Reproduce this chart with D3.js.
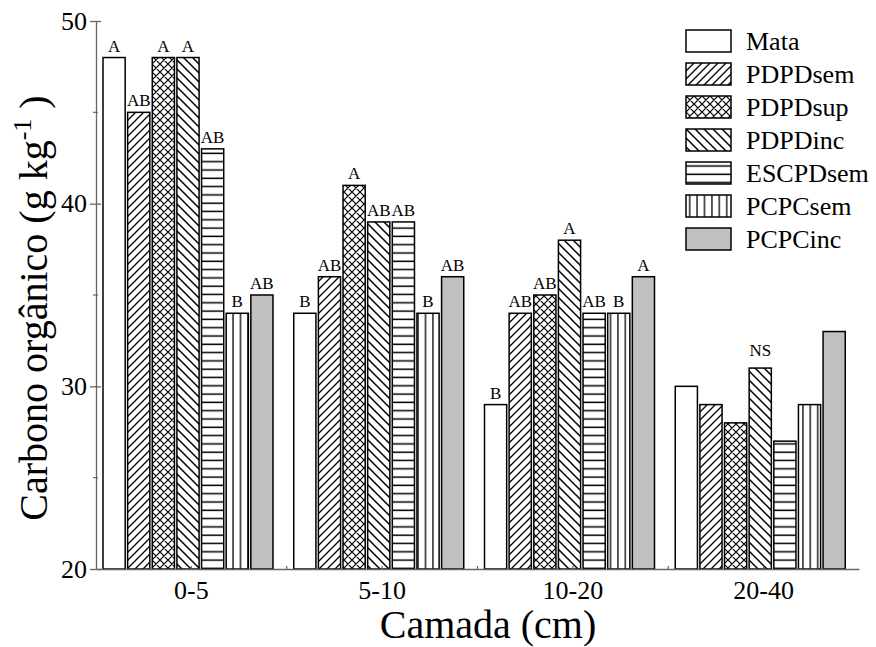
<!DOCTYPE html>
<html>
<head>
<meta charset="utf-8">
<script src="https://cdn.jsdelivr.net/npm/d3@7"></script>
<style>
  html, body { margin: 0; padding: 0; background: #fff; }
  svg { display: block; }
  svg text { font-family: "Liberation Serif", "Tinos", "Times New Roman", "DejaVu Serif", serif; }
</style>
</head>
<body>
<svg id="chart" width="876" height="647"></svg>
<script>
// Soil layers (x categories) and management systems (series)
const layers = ["0-5", "5-10", "10-20", "20-40"];
const systems = ["Mata", "PDPDsem", "PDPDsup", "PDPDinc", "ESCPDsem", "PCPCsem", "PCPCinc"];

// Organic carbon (g kg-1) per system, one value per layer
const mata     = [48, 34, 29, 30];
const pdpdSem  = [45, 36, 34, 29];
const pdpdSup  = [48, 41, 35, 28];
const pdpdInc  = [48, 39, 38, 31];
const escpdSem = [43, 39, 34, 27];
const pcpcSem  = [34, 34, 34, 29];
const pcpcInc  = [35, 36, 36, 33];

// Mean-comparison letters per system, one per layer
const mataLetters     = ["A", "B", "B", ""];
const pdpdSemLetters  = ["AB", "AB", "AB", ""];
const pdpdSupLetters  = ["A", "A", "AB", ""];
const pdpdIncLetters  = ["A", "AB", "A", "NS"];
const escpdSemLetters = ["AB", "AB", "AB", ""];
const pcpcSemLetters  = ["B", "B", "B", ""];
const pcpcIncLetters  = ["AB", "AB", "A", ""];

const yTicks = [20, 30, 40, 50];
const yMinorTicks = [25, 35, 45];

const seriesValues = [mata, pdpdSem, pdpdSup, pdpdInc, escpdSem, pcpcSem, pcpcInc];
const seriesLetters = [mataLetters, pdpdSemLetters, pdpdSupLetters, pdpdIncLetters,
                       escpdSemLetters, pcpcSemLetters, pcpcIncLetters];

const rows = [];
layers.forEach((layer, li) => {
  systems.forEach((sys, si) => {
    rows.push({ layer, sys, si, value: seriesValues[si][li], letter: seriesLetters[si][li] });
  });
});

const svg = d3.select("#chart");
const plotLeft = 96, plotRight = 859, plotTop = 21, plotBottom = 569;
const axisColor = "#666";
const serif = "'Liberation Serif', 'Tinos', 'Times New Roman', 'DejaVu Serif', serif";

const x0 = d3.scaleBand().domain(layers).range([plotLeft, plotRight]).padding(0);
const x1 = d3.scaleBand().domain(systems).range([7, 177]).paddingInner(0.1).paddingOuter(0);
const y = d3.scaleLinear().domain([20, 50]).range([plotBottom, plotTop]);

// Hatch patterns
const defs = svg.append("defs");
function pattern(id, w, h, draw) {
  const p = defs.append("pattern").attr("id", id)
    .attr("patternUnits", "userSpaceOnUse").attr("width", w).attr("height", h);
  p.append("rect").attr("width", w).attr("height", h).attr("fill", "#fff");
  draw(p);
}
const hs = 8;
pattern("p-fwd", hs, hs, p => p.append("path")
  .attr("d", `M-2,2 L2,-2 M0,${hs} L${hs},0 M${hs - 2},${hs + 2} L${hs + 2},${hs - 2}`)
  .attr("stroke", "#000").attr("stroke-width", 1.3));
pattern("p-cross", hs, hs, p => p.append("path")
  .attr("d", `M-2,2 L2,-2 M0,${hs} L${hs},0 M${hs - 2},${hs + 2} L${hs + 2},${hs - 2}` +
             ` M-2,${hs - 2} L2,${hs + 2} M0,0 L${hs},${hs} M${hs - 2},-2 L${hs + 2},2`)
  .attr("stroke", "#000").attr("stroke-width", 1.2));
const bs = 9;
pattern("p-back", bs, bs, p => p.append("path")
  .attr("d", `M-2,${bs - 2} L2,${bs + 2} M0,0 L${bs},${bs} M${bs - 2},-2 L${bs + 2},2`)
  .attr("stroke", "#000").attr("stroke-width", 1.5));
pattern("p-horiz", 10, 8.3, p => p.append("line")
  .attr("x1", 0).attr("x2", 10).attr("y1", 4).attr("y2", 4)
  .attr("stroke", "#000").attr("stroke-width", 1.5));
pattern("p-vert", 7.4, 10, p => p.append("line")
  .attr("x1", 3.7).attr("x2", 3.7).attr("y1", 0).attr("y2", 10)
  .attr("stroke", "#000").attr("stroke-width", 1.3));

const fills = {
  Mata: "#fff",
  PDPDsem: "url(#p-fwd)",
  PDPDsup: "url(#p-cross)",
  PDPDinc: "url(#p-back)",
  ESCPDsem: "url(#p-horiz)",
  PCPCsem: "url(#p-vert)",
  PCPCinc: "#c0c0c0"
};

// Bars
svg.append("g").selectAll("rect").data(rows).join("rect")
  .attr("x", d => x0(d.layer) + x1(d.sys))
  .attr("y", d => y(d.value))
  .attr("width", x1.bandwidth())
  .attr("height", d => y(20) - y(d.value))
  .attr("fill", d => fills[d.sys])
  .attr("stroke", "#000")
  .attr("stroke-width", 1.5);

// Letters above bars
svg.append("g").selectAll("text").data(rows.filter(d => d.letter)).join("text")
  .attr("x", d => x0(d.layer) + x1(d.sys) + x1.bandwidth() / 2)
  .attr("y", d => y(d.value) - (d.letter === "NS" ? 12 : 6))
  .attr("text-anchor", "middle")
  .attr("font-family", serif)
  .attr("font-size", 17)
  .attr("fill", "#000")
  .text(d => d.letter);

// Y axis
const yAxis = svg.append("g").attr("transform", `translate(${plotLeft},0)`)
  .call(d3.axisLeft(y).tickValues(yTicks).tickSizeInner(6).tickSizeOuter(0).tickPadding(3));
yAxis.attr("font-family", serif);
yAxis.select(".domain").attr("stroke", axisColor).attr("stroke-width", 1.3);
yAxis.selectAll(".tick line").attr("stroke", axisColor).attr("stroke-width", 1.3).attr("x2", -6).attr("x1", 5);
yAxis.selectAll(".tick text").attr("font-size", 26).attr("fill", "#000");
yAxis.append("g").selectAll("line").data(yMinorTicks).join("line")
  .attr("x1", -3).attr("x2", 2)
  .attr("y1", d => y(d)).attr("y2", d => y(d))
  .attr("stroke", axisColor).attr("stroke-width", 1.2);

// X axis
const xAxis = svg.append("g").attr("transform", `translate(0,${plotBottom})`)
  .call(d3.axisBottom(x0).tickSizeInner(-3).tickSizeOuter(0).tickPadding(12));
xAxis.attr("font-family", serif);
xAxis.select(".domain").attr("stroke", axisColor).attr("stroke-width", 1.3);
xAxis.selectAll(".tick line").attr("stroke", axisColor).attr("stroke-width", 1.2);
xAxis.selectAll(".tick text").attr("font-size", 26).attr("fill", "#000");
xAxis.append("g").selectAll("line").data(layers.slice(1)).join("line")
  .attr("x1", d => x0(d)).attr("x2", d => x0(d))
  .attr("y1", -3).attr("y2", 0)
  .attr("stroke", axisColor).attr("stroke-width", 1.2);

// Axis titles
svg.append("text")
  .attr("x", 488).attr("y", 638)
  .attr("text-anchor", "middle").attr("font-family", serif)
  .attr("font-size", 40).attr("fill", "#000")
  .text("Camada (cm)");

const yTitle = svg.append("text")
  .attr("transform", `translate(47,308) rotate(-90)`)
  .attr("text-anchor", "middle").attr("font-family", serif)
  .attr("font-size", 40).attr("fill", "#000");
yTitle.append("tspan").text("Carbono orgânico (g kg");
yTitle.append("tspan").attr("font-size", 26).attr("dy", -16).text("-1");
yTitle.append("tspan").attr("dy", 16).text(" )");

// Legend
const legend = svg.append("g").attr("transform", "translate(686,30)");
const item = legend.selectAll("g").data(systems).join("g")
  .attr("transform", (d, i) => `translate(0,${i * 33})`);
item.append("rect")
  .attr("width", 45).attr("height", 22)
  .attr("fill", d => fills[d]).attr("stroke", "#000").attr("stroke-width", 1.5);
item.append("text")
  .attr("x", 60).attr("y", 20)
  .attr("font-family", serif)
  .attr("font-size", 26).attr("fill", "#000")
  .text(d => d);
</script>
</body>
</html>
